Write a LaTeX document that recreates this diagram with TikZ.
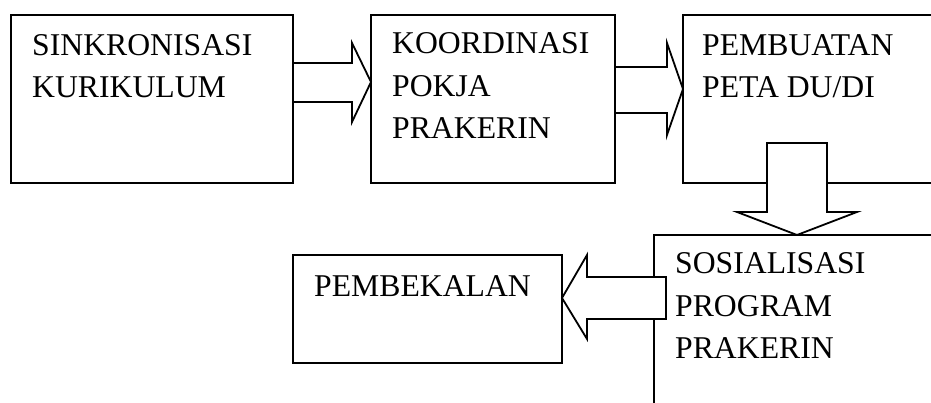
\documentclass[tikz,border=0pt]{standalone}
\usepackage{fontspec}
\setmainfont{Liberation Serif}
\usetikzlibrary{calc}
\begin{document}
\begin{tikzpicture}[x=1pt,y=1pt,
  box/.style={draw=black,line width=1.8pt,inner sep=0pt,outer sep=0pt,anchor=south west},
  blockarrow/.style={draw=black,line width=1.8pt,line join=miter},
  coverarrow/.style={blockarrow,fill=white},
  label/.style={anchor=base west,inner sep=0pt,align=left,
    font=\fontsize{31.7}{42.5}\selectfont}]
\useasboundingbox (0,0) rectangle (931,403);
\clip (0,0) rectangle (931,403);
\fill[white] (0,0) rectangle (931,403);

% process boxes
\node[box,minimum width=282pt,minimum height=168pt] (b1) at (11,220) {};
\node[box,minimum width=244pt,minimum height=168pt] (b2) at (371,220) {};
\node[box,minimum width=277pt,minimum height=168pt] (b3) at (683,220) {};
\node[box,minimum width=306pt,minimum height=188pt] (b4) at (654,-20) {};
\node[box,minimum width=269pt,minimum height=108pt] (b5) at (293,40) {};

% labels (placed by the baseline of their last line)
\node[label] (t1) at (32,305) {SINKRONISASI\\KURIKULUM};
\node[label] (t2) at (392,264) {KOORDINASI\\POKJA\\PRAKERIN};
\node[label] (t3) at (702,305) {PEMBUATAN\\PETA DU/DI};
\node[label] (t4) at (675,44) {SOSIALISASI\\PROGRAM\\PRAKERIN};
\node[label] (t5) at (314,106) {PEMBEKALAN};

% anchor points of the block arrows on the boxes
\coordinate (a1s) at (b1.north east |- 0,321);
\coordinate (a1t) at (b2.north west |- 0,321);
\coordinate (a2s) at (b2.north east |- 0,314);
\coordinate (a2t) at (b3.north west |- 0,314);
\coordinate (a3s) at (b3.south west -| 797,0);
\coordinate (a3t) at (b4.north west -| 797,0);
\coordinate (a4s) at (b4.south west |- 0,105);
\coordinate (a4t) at (b5.north east |- 0,105);

% block arrows between the steps
\draw[blockarrow] ($(a1s)+(0,19)$) -- ($(a1s)+(59,19)$) -- ($(a1s)+(59,39)$)
  -- (a1t) -- ($(a1s)+(59,-40)$) -- ($(a1s)+(59,-20)$) -- ($(a1s)+(0,-20)$);
\draw[blockarrow] ($(a2s)+(0,22)$) -- ($(a2s)+(52,22)$) -- ($(a2s)+(52,46)$)
  -- (a2t) -- ($(a2s)+(52,-46)$) -- ($(a2s)+(52,-24)$) -- ($(a2s)+(0,-24)$);
\draw[coverarrow] ($(a3s)+(-30,40)$) -- ($(a3s)+(30,40)$) -- ($(a3s)+(30,-29)$)
  -- ($(a3s)+(60,-29)$) -- (a3t) -- ($(a3s)+(-60,-29)$) -- ($(a3s)+(-30,-29)$) -- cycle;
\draw[coverarrow] ($(a4s)+(12,21)$) -- ($(a4s)+(-67,21)$) -- ($(a4s)+(-67,43)$)
  -- (a4t) -- ($(a4s)+(-67,-41)$) -- ($(a4s)+(-67,-21)$) -- ($(a4s)+(12,-21)$) -- cycle;
\end{tikzpicture}
\end{document}
